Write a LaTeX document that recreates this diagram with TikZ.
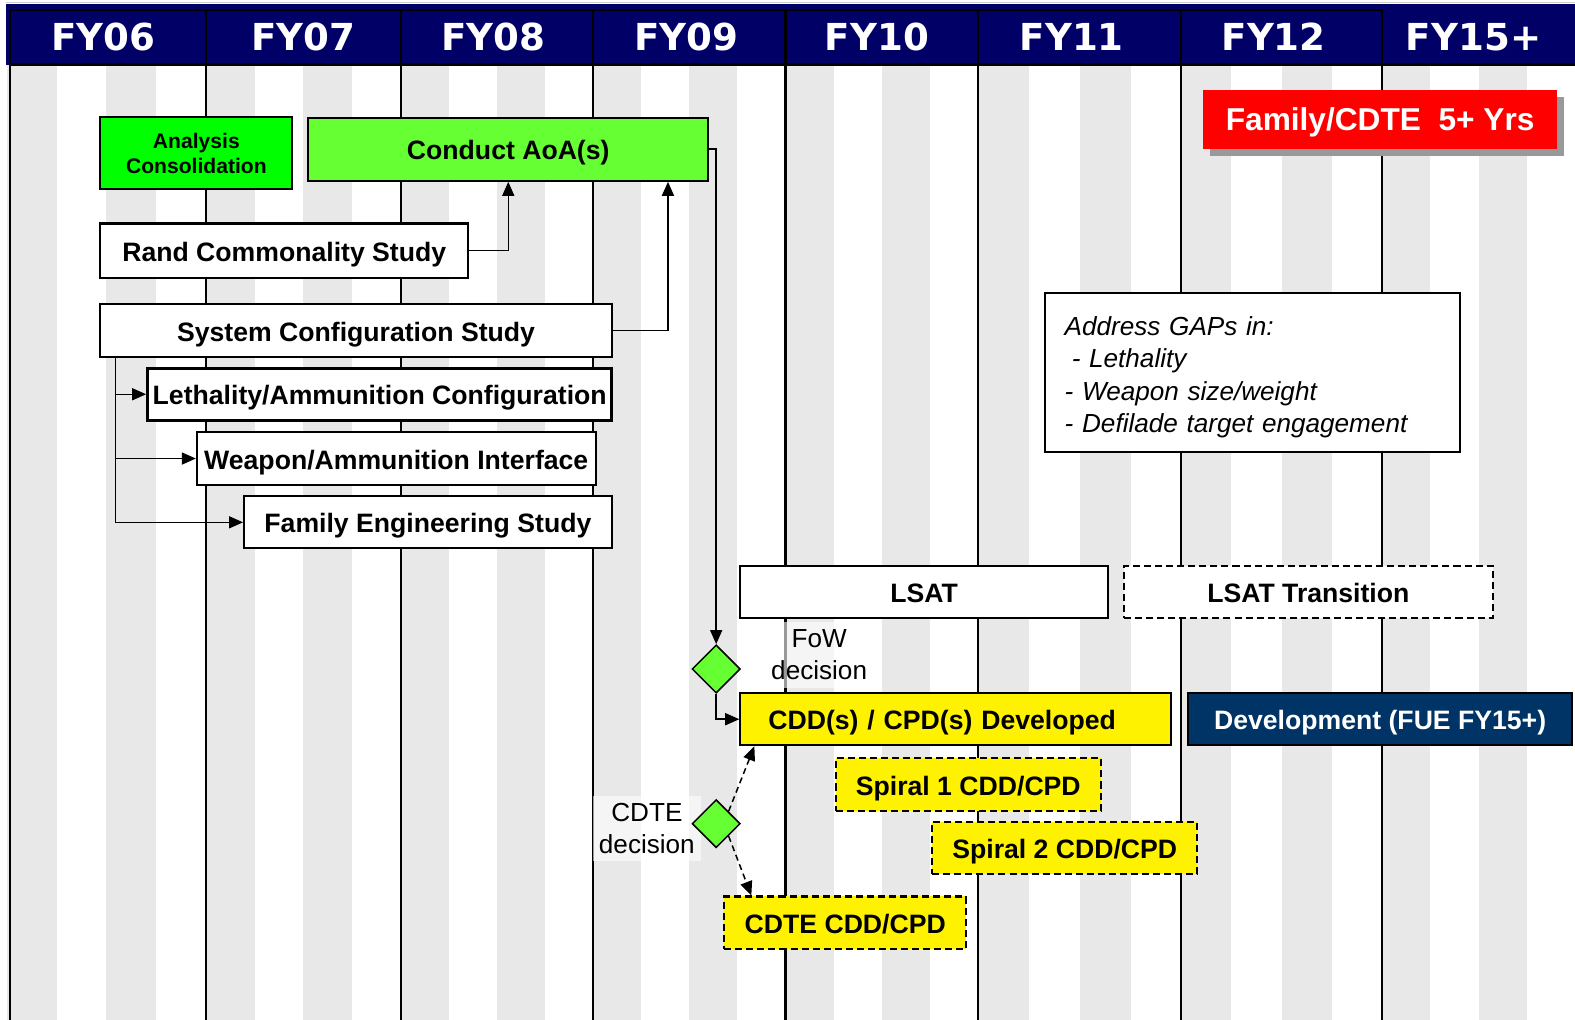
\documentclass[tikz,border=0pt]{standalone}
\usepackage{fontspec}
\setmainfont{Liberation Sans}
\newfontfamily\yearfont{DejaVu Sans}
\usetikzlibrary{arrows.meta,shapes.geometric,shadows}
\definecolor{hdrblue}{HTML}{000066}
\definecolor{stripe}{HTML}{E8E8E8}
\definecolor{aoagreen}{HTML}{66FF33}
\definecolor{devblue}{HTML}{003366}
\begin{document}
\begin{tikzpicture}[x=1pt,y=-1pt,
  >={Triangle[length=14pt,width=12pt]},
  year/.style={text=white,font=\yearfont\bfseries\fontsize{37}{40}\selectfont},
  task/.style={draw,line width=2pt,fill=white,minimum height=52pt,inner sep=0pt,
    text height=21pt,text depth=0pt,font=\bfseries\fontsize{26.5}{30}\selectfont},
  draft/.style={task,fill=yellow,dash pattern=on 7pt off 4pt},
  gate/.style={diamond,draw,line width=1.5pt,fill=aoagreen,minimum width=48pt,
    minimum height=48pt,inner sep=0pt},
  note/.style={fill=white,fill opacity=0.6,text opacity=1,align=center,inner sep=0pt,
    minimum height=65pt,font=\fontsize{26}{32}\selectfont},
  link/.style={line width=1.5pt}]
\useasboundingbox (0,0) rectangle (1568,1015);
\foreach \l/\r in {7/205,205/399,399/590,590/782,782/974,974/1176,1176/1376,1376/1568}{
  \fill[stripe] (\l,65) rectangle ({\l+(\r-\l)/4},1015);
  \fill[stripe] ({\l+(\r-\l)/2},65) rectangle ({\l+3*(\r-\l)/4},1015);
}
\draw[black!20,line width=1pt] (6,2) -- (1568,2);
\fill[hdrblue] (6,4) rectangle (1568,65);
\foreach \x in {10,205,399,590,782,974,1176,1376}
  \draw[line width=2pt] (\x,10) -- (\x,1015);
\draw[line width=2pt] (10,10) -- (1376,10);
\draw[line width=2.5pt] (10,64) -- (1568,64);
\foreach \x/\t [count=\i] in {103/FY06,302/FY07,491/FY08,683/FY09,873/FY10,1067/FY11,1268/FY12,1467/FY15+}
  \node[year] (yr\i) at (\x,37) {\t};

\node[draw,line width=2pt,fill=green,minimum width=191pt,minimum height=72pt,inner sep=0pt,align=center,
  font=\bfseries\fontsize{21}{25}\selectfont] (anacon) at (195.5,152.5) {Analysis\\Consolidation};
\node[task,fill=aoagreen,minimum width=398pt,minimum height=63pt] (aoa) at (506,148.5) {Conduct AoA(s)};
\node[task,minimum width=366pt,minimum height=54pt] (rand) at (283,249.5) {Rand Commonality Study};
\node[task,minimum width=509pt] (syscfg) at (354.5,329) {System Configuration Study};
\node[task,line width=3pt,minimum width=462pt] (leth) at (378,392.5) {Lethality/Ammunition Configuration};
\node[task,minimum width=397pt] (weap) at (394.5,456.5) {Weapon/Ammunition Interface};
\node[task,minimum width=366pt] (fameng) at (426,520) {Family Engineering Study};

\node[fill=red,text=white,minimum width=352pt,minimum height=58pt,inner sep=0pt,
  text height=22pt,text depth=0pt,
  drop shadow={shadow xshift=7pt,shadow yshift=-7pt,fill=black!40,opacity=1},
  font=\bfseries\fontsize{31.5}{34}\selectfont] (span) at (1374,119) {Family/CDTE\ \ 5+ Yrs};
\node[draw,line width=2pt,fill=white,minimum height=158pt,text width=373pt,inner xsep=20pt,
  align=left,font=\itshape\fontsize{26}{32}\selectfont] (gaps) at (1246.5,371)
  {\rule{0pt}{28pt}Address GAPs in:\\\hspace*{7pt}- Lethality\\- Weapon size/weight\\- Defilade target engagement};

\node[task,minimum width=366pt] (lsat) at (920,589) {LSAT};
\node[task,dash pattern=on 7pt off 4pt,minimum width=367pt] (lsattr) at (1302.5,589) {LSAT Transition};
\node[note,minimum width=119pt] (fowlbl) at (815.5,652) {FoW\\decision};
\node[gate] (fow) at (713,666) {};
\node[task,fill=yellow,minimum width=429pt,text width=373pt,inner xsep=28pt,align=left] (cdd) at (951.5,716) {CDD(s) / CPD(s) Developed};
\node[task,fill=devblue,text=white,minimum width=382pt] (dev) at (1374,716) {Development (FUE FY15+)};
\node[draft,minimum width=264pt] (sp1) at (964,781) {Spiral 1 CDD/CPD};
\node[draft,minimum width=264pt] (sp2) at (1060,844) {Spiral 2 CDD/CPD};
\node[note,minimum width=108pt] (cdtelbl) at (644,824.5) {CDTE\\decision};
\node[gate] (cdte) at (713,820) {};
\node[draft,minimum width=241pt] (cdtecdd) at (841.5,918.5) {CDTE CDD/CPD};

\path[draw,link,->] (rand.east) -| (aoa.south);
\path[draw,link,->] (syscfg.east) -| ([xshift=159pt]aoa.south);
\path[draw,link,->] ([xshift=16pt]syscfg.south west) |- (leth.west);
\path[draw,link,->] ([xshift=16pt]syscfg.south west) |- (weap.west);
\path[draw,link,->] ([xshift=16pt]syscfg.south west) |- (fameng.west);
\path[draw,link,->] (aoa.east) -| (fow.north);
\path[draw,link,->] (fow.south) |- (cdd.west);
\path[draw,link,->,dash pattern=on 6pt off 4pt] (cdte.north east) -- ([xshift=15pt]cdd.south west);
\path[draw,link,->,dash pattern=on 6pt off 4pt] (cdte.south east) -- ([xshift=28pt]cdtecdd.north west);
\end{tikzpicture}
\end{document}
